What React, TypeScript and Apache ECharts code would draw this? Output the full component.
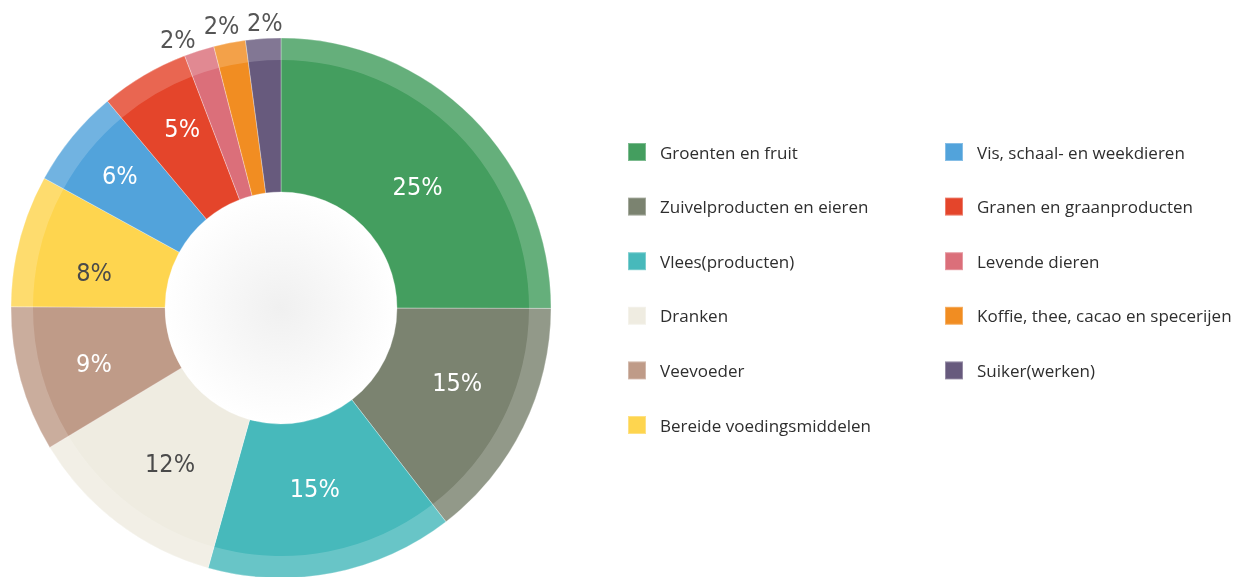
import React, { useEffect, useRef } from "react";
import * as echarts from "echarts";

const CATEGORIES = [
  "Groenten en fruit",
  "Zuivelproducten en eieren",
  "Vlees(producten)",
  "Dranken",
  "Veevoeder",
  "Bereide voedingsmiddelen",
  "Vis, schaal- en weekdieren",
  "Granen en graanproducten",
  "Levende dieren",
  "Koffie, thee, cacao en specerijen",
  "Suiker(werken)",
];
const SHARES = [25, 14.5, 14.8, 12, 8.7, 7.9, 5.9, 5.3, 1.8, 1.9, 2.1];
const COLORS = [
  "#449e5f",
  "#7b8370",
  "#47b9bb",
  "#efece1",
  "#bf9b88",
  "#fed54f",
  "#52a3db",
  "#e4452b",
  "#db6f7a",
  "#f18d22",
  "#675a7d",
];
const LABEL_COLORS = [
  "#ffffff",
  "#ffffff",
  "#ffffff",
  "#4a4a4a",
  "#ffffff",
  "#4a4a4a",
  "#ffffff",
  "#ffffff",
  "#555555",
  "#555555",
  "#555555",
];
const LEFT_COLUMN = CATEGORIES.slice(0, 6);
const RIGHT_COLUMN = CATEGORIES.slice(6);

const SMALL = 3;
const LABEL_FONT = "'DejaVu Sans Condensed', 'DejaVu Sans', sans-serif";

// label nudges (px) so the percentage texts sit where the original put them
const LABEL_NUDGE: Record<string, number[]> = {
  "Groenten en fruit": [0, 15],
  "Zuivelproducten en eieren": [3, -11],
  "Vlees(producten)": [-3, -9],
  Dranken: [6, 2],
  Veevoeder: [-1, 4],
  "Bereide voedingsmiddelen": [0, 13],
  "Vis, schaal- en weekdieren": [-12, -10],
  "Granen en graanproducten": [-1, -13],
  "Levende dieren": [-15, 9],
  "Koffie, thee, cacao en specerijen": [-4, 3],
  "Suiker(werken)": [3, 5],
};

export default function App() {
  const ref = useRef<HTMLDivElement>(null);

  useEffect(() => {
    if (!ref.current) return;
    const chart = echarts.init(ref.current, undefined, { renderer: "svg" });
    const center = [281, 308];

    const pct = (v: number) => Math.round(v) + "%";

    const legendBase = {
      orient: "vertical",
      top: 137,
      itemGap: 34.6,
      itemWidth: 18,
      itemHeight: 18,
      icon: "rect",
      selectedMode: false,
      textStyle: {
        fontSize: 17,
        lineHeight: 18,
        color: "#2e2e2e",
        fontFamily: "'Open Sans', sans-serif",
        padding: [0, 0, 0, 9],
      },
    };

    const labelStyle = (i: number, show: boolean) => ({
      show,
      position: "inside",
      formatter: pct(SHARES[i]),
      color: LABEL_COLORS[i],
      fontSize: 25,
      fontFamily: LABEL_FONT,
      offset: LABEL_NUDGE[CATEGORIES[i]] || [0, 0],
    });

    const angleSeries = {
      type: "pie",
      center,
      startAngle: 90,
      clockwise: true,
      silent: true,
      avoidLabelOverlap: false,
      labelLayout: { hideOverlap: false },
      labelLine: { show: false },
    };

    chart.setOption({
      animation: false,
      legend: [
        { ...legendBase, left: 622, data: LEFT_COLUMN },
        { ...legendBase, left: 939, data: RIGHT_COLUMN },
      ],
      series: [
        {
          type: "pie",
          center,
          radius: [0, 116],
          silent: true,
          label: { show: false },
          labelLine: { show: false },
          itemStyle: {
            color: {
              type: "radial",
              x: 0.5,
              y: 0.5,
              r: 0.5,
              colorStops: [
                { offset: 0, color: "#f0f0f0" },
                { offset: 1, color: "#ffffff" },
              ],
            },
          },
          data: [{ value: 1, name: "centre" }],
        },
        {
          ...angleSeries,
          radius: [116, 270],
          label: { show: false },
          itemStyle: { borderColor: "rgba(255,255,255,0.3)", borderWidth: 1 },
          data: CATEGORIES.map((name, i) => ({
            name,
            value: SHARES[i],
            itemStyle: { color: COLORS[i] },
          })),
        },
        {
          ...angleSeries,
          radius: [248, 270],
          label: { show: false },
          itemStyle: { color: "rgba(255,255,255,0.18)", borderWidth: 0 },
          data: CATEGORIES.map((name, i) => ({
            name,
            value: SHARES[i],
            itemStyle: { color: "rgba(255,255,255,0.18)" },
          })),
        },
        {
          ...angleSeries,
          radius: [116, 264],
          itemStyle: { color: "rgba(0,0,0,0)" },
          data: CATEGORIES.map((name, i) => ({
            name,
            value: SHARES[i],
            itemStyle: { color: "rgba(0,0,0,0)" },
            label: labelStyle(i, SHARES[i] >= SMALL),
          })),
        },
        {
          ...angleSeries,
          radius: [280, 296],
          itemStyle: { color: "rgba(0,0,0,0)" },
          data: CATEGORIES.map((name, i) => ({
            name,
            value: SHARES[i],
            itemStyle: { color: "rgba(0,0,0,0)" },
            label: labelStyle(i, SHARES[i] < SMALL),
          })),
        },
      ],
    });

    return () => chart.dispose();
  }, []);

  return (
    <div
      ref={ref}
      style={{ position: "fixed", left: 0, top: 0, width: 1245, height: 577 }}
    />
  );
}
